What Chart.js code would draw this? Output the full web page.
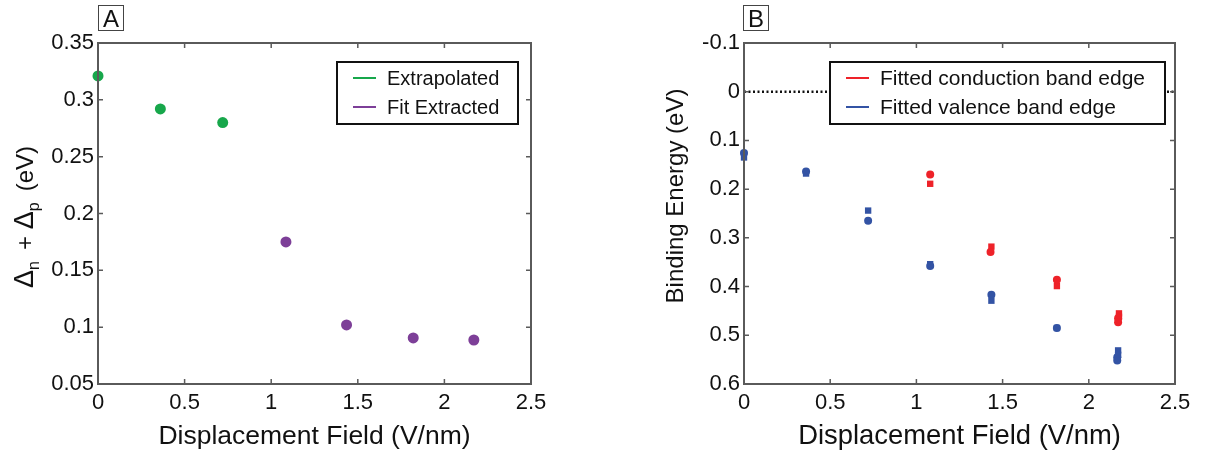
<!DOCTYPE html>
<html>
<head>
<meta charset="utf-8">
<script src="https://cdn.jsdelivr.net/npm/chart.js@4.4.1/dist/chart.umd.min.js"></script>
<style>
  body { margin:0; background:#fff; width:1210px; height:457px; overflow:hidden; position:relative; font-family:"Liberation Sans", Arial, sans-serif; }
  canvas { position:absolute; top:0; }
  .tag { position:absolute; top:5px; width:24px; height:24px; border:1px solid #444; font-size:24px; line-height:25px; text-align:center; color:#111; background:#fff; }
</style>
</head>
<body>
<canvas id="chartA" width="600" height="457" style="left:0"></canvas>
<canvas id="chartB" width="610" height="457" style="left:600px"></canvas>
<div class="tag" style="left:98px">A</div>
<div class="tag" style="left:743px">B</div>
<script>
// Panel A: band gap vs displacement field
const extrapField = [0, 0.36, 0.72];
const extrapGap = [0.321, 0.292, 0.280];
const fitField = [1.085, 1.435, 1.82, 2.17];
const fitGap = [0.175, 0.102, 0.0905, 0.0887];

// Panel B: binding energies of band edges
const condCircField = [1.08, 1.43, 1.815, 2.17, 2.17];
const condCircE = [0.170, 0.329, 0.386, 0.465, 0.473];
const condSqField = [1.08, 1.435, 1.815, 2.175, 2.175];
const condSqE = [0.189, 0.318, 0.399, 0.455, 0.462];
const valCircField = [0, 0.36, 0.72, 1.08, 1.435, 1.815, 2.165, 2.165];
const valCircE = [0.126, 0.164, 0.265, 0.358, 0.417, 0.485, 0.545, 0.552];
const valSqField = [0, 0.36, 0.72, 1.08, 1.435, 1.815, 2.17, 2.17];
const valSqE = [0.135, 0.168, 0.244, 0.354, 0.429, 0.485, 0.531, 0.540];
const zeroLine = [0, 2.5];

const legendA = ['Extrapolated', 'Fit Extracted'];
const legendB = ['Fitted conduction band edge', 'Fitted valence band edge'];

const GREEN = '#17a74b', PURPLE = '#7d3f98', RED = '#ee2229', BLUE = '#3353a4';
const FONT = '"Liberation Sans", Arial, sans-serif';

function pts(xs, ys) { return xs.map((x, i) => ({x: x, y: ys[i]})); }
function fmt(v) { return Number(v.toFixed(2)).toString(); }

// frame with inward ticks on all four sides, legend box, y title with subscripts
const framePlugin = {
  id: 'frame',
  afterDraw(chart, args, opts) {
    const ctx = chart.ctx, a = chart.chartArea;
    const xs = chart.scales.x, ys = chart.scales.y;
    ctx.save();
    ctx.strokeStyle = '#5a5a5a';
    ctx.lineWidth = 2;
    ctx.strokeRect(a.left, a.top, a.right - a.left, a.bottom - a.top);
    ctx.lineWidth = 1.5;
    ctx.beginPath();
    xs.ticks.forEach(t => {
      const px = xs.getPixelForValue(t.value);
      if (px <= a.left + 1 || px >= a.right - 1) return;
      ctx.moveTo(px, a.bottom); ctx.lineTo(px, a.bottom - 5);
      ctx.moveTo(px, a.top); ctx.lineTo(px, a.top + 5);
    });
    ys.ticks.forEach(t => {
      const py = ys.getPixelForValue(t.value);
      if (py <= a.top + 1 || py >= a.bottom - 1) return;
      ctx.moveTo(a.left, py); ctx.lineTo(a.left + 5, py);
      ctx.moveTo(a.right, py); ctx.lineTo(a.right - 5, py);
    });
    ctx.stroke();

    // legend
    const lg = opts.legend;
    const bx = a.right - lg.offRight - lg.width, by = a.top + 19;
    ctx.fillStyle = '#fff';
    ctx.fillRect(bx, by, lg.width, 62);
    ctx.strokeStyle = '#111';
    ctx.lineWidth = 2;
    ctx.strokeRect(bx, by, lg.width, 62);
    ctx.font = lg.size + 'px ' + FONT;
    ctx.textBaseline = 'middle';
    lg.labels.forEach((txt, i) => {
      const ly = by + 16 + i * 29;
      ctx.strokeStyle = lg.colors[i];
      ctx.lineWidth = 2;
      ctx.beginPath();
      ctx.moveTo(bx + 16, ly); ctx.lineTo(bx + 39, ly);
      ctx.stroke();
      ctx.fillStyle = '#111';
      ctx.fillText(txt, bx + 50, ly + 1);
    });

    // y title (rotated, with optional subscripts); ytitleX is the baseline
    const segs = opts.ytitle;
    const cx = opts.ytitleX, cy = opts.ytitleY;
    let total = 0;
    segs.forEach(s => { ctx.font = s[1] + 'px ' + FONT; total += ctx.measureText(s[0]).width; });
    ctx.translate(cx, cy);
    ctx.rotate(-Math.PI / 2);
    ctx.textBaseline = 'alphabetic';
    ctx.fillStyle = '#111';
    let x = -total / 2;
    segs.forEach(s => {
      ctx.font = s[1] + 'px ' + FONT;
      ctx.fillText(s[0], x, s[2]);
      x += ctx.measureText(s[0]).width;
    });
    ctx.restore();
  }
};

function axisX(titleSize) {
  return {
    type: 'linear', min: 0, max: 2.5,
    grid: {display: false, drawTicks: false}, border: {display: false},
    ticks: {stepSize: 0.5, padding: 6, color: '#111', font: {family: FONT, size: 22}, callback: fmt, maxRotation: 0},
    title: {display: true, text: 'Displacement Field (V/nm)', color: '#111', font: {family: FONT, size: titleSize}, padding: {top: 0, bottom: 4}},
    afterFit: s => { s.height = 73; }
  };
}

function axisY(min, max, step, rev, width) {
  return {
    type: 'linear', min: min, max: max, reverse: rev,
    grid: {display: false, drawTicks: false}, border: {display: false},
    ticks: {stepSize: step, padding: 4, color: '#111', font: {family: FONT, size: 22}, callback: fmt},
    afterFit: s => { s.width = width; }
  };
}

new Chart(document.getElementById('chartA'), {
  type: 'scatter',
  data: {
    datasets: [
      {label: legendA[0], data: pts(extrapField, extrapGap), backgroundColor: GREEN, borderColor: GREEN, pointRadius: 5.5, pointBorderWidth: 0},
      {label: legendA[1], data: pts(fitField, fitGap), backgroundColor: PURPLE, borderColor: PURPLE, pointRadius: 5.5, pointBorderWidth: 0}
    ]
  },
  options: {
    responsive: false, animation: false, clip: false,
    layout: {padding: {top: 43, right: 69, left: 0, bottom: 0}},
    plugins: {
      legend: {display: false}, tooltip: {enabled: false},
      frame: {
        legend: {labels: legendA, colors: [GREEN, PURPLE], width: 181, offRight: 13, size: 20},
        ytitle: [['\u0394', 27, 0], ['n ', 16, 6], [' + ', 24, 0], ['\u0394', 27, 0], ['p ', 16, 6], [' (eV)', 24, 0]],
        ytitleX: 33, ytitleY: 217
      }
    },
    scales: {
      x: axisX(26.5),
      y: axisY(0.05, 0.35, 0.05, false, 98)
    }
  },
  plugins: [framePlugin]
});

new Chart(document.getElementById('chartB'), {
  type: 'scatter',
  data: {
    datasets: [
      {type: 'line', data: pts(zeroLine, [0, 0]), borderColor: '#111', borderWidth: 2.5, borderDash: [2, 2.5], pointRadius: 0},
      {label: 'cond circle', data: pts(condCircField, condCircE), backgroundColor: RED, pointRadius: 4, pointBorderWidth: 0},
      {label: 'cond square', data: pts(condSqField, condSqE), backgroundColor: RED, pointStyle: 'rect', pointRadius: 4.5, pointBorderWidth: 0},
      {label: 'val square', data: pts(valSqField, valSqE), backgroundColor: BLUE, pointStyle: 'rect', pointRadius: 4.5, pointBorderWidth: 0},
      {label: 'val circle', data: pts(valCircField, valCircE), backgroundColor: BLUE, pointRadius: 4, pointBorderWidth: 0}
    ]
  },
  options: {
    responsive: false, animation: false, clip: false,
    layout: {padding: {top: 43, right: 35, left: 0, bottom: 0}},
    plugins: {
      legend: {display: false}, tooltip: {enabled: false},
      frame: {
        legend: {labels: legendB, colors: [RED, BLUE], width: 335, offRight: 10, size: 21},
        ytitle: [['Binding Energy (eV)', 24, 0]],
        ytitleX: 83, ytitleY: 196
      }
    },
    scales: {
      x: axisX(27.4),
      y: axisY(-0.1, 0.6, 0.1, true, 144)
    }
  },
  plugins: [framePlugin]
});
</script>
</body>
</html>
